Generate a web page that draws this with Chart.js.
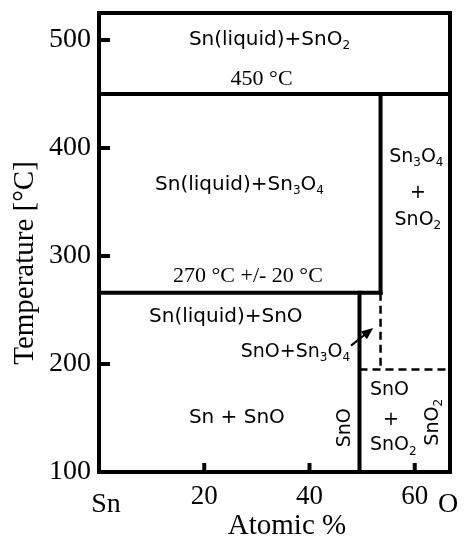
<!DOCTYPE html>
<html>
<head>
<meta charset="utf-8">
<script src="https://cdn.jsdelivr.net/npm/chart.js@4.4.1/dist/chart.umd.min.js"></script>
<style>
  html, body { margin: 0; padding: 0; background: #fff; }
  #wrap { width: 464px; height: 540px; position: relative; }
</style>
</head>
<body>
<div id="wrap"><canvas id="phaseChart"></canvas></div>
<script>
// Sn-O phase diagram
const xTicks = [20, 40, 60];
const yTicks = [100, 200, 300, 400, 500];
const xRange = [0, 66.7];
const yRange = [100, 525];

// compositions (atomic % O) and temperatures (°C) of the boundaries
const compSnO = 49.5;
const compSn3O4 = 53.5;
const compSnO2 = 66.7;
const tLiquid = 450;
const tSn3O4 = 266;
const tSnO = 195;

// solid boundaries
const solidX = [
    [0, compSnO2],
    [compSn3O4, compSn3O4],
    [0, compSn3O4],
    [compSnO, compSnO]
];
const solidY = [
    [tLiquid, tLiquid],
    [tLiquid, tSn3O4],
    [tSn3O4, tSn3O4],
    [tSn3O4, 100]
];
// dashed boundaries
const dashedX = [
    [compSn3O4, compSn3O4],
    [compSnO, compSnO2]
];
const dashedY = [
    [tSn3O4, tSnO],
    [tSnO, tSnO]
];

const SANS = '"DejaVu Sans", sans-serif';
const SERIF = '"Liberation Serif", "Times New Roman", serif';

// region labels ('_' marks a subscript digit)
const annotations = [
    { text: 'Sn(liquid)+SnO_2', x: 32.4, y: 500.6, font: SANS, size: 20 },
    { text: '450 °C', x: 30.9, y: 463.5, font: SERIF, size: 22 },
    { text: 'Sn(liquid)+Sn_3O_4', x: 26.7, y: 366, font: SANS, size: 20 },
    { text: 'Sn_3O_4', x: 60.3, y: 392, font: SANS, size: 19 },
    { text: '+', x: 60.6, y: 358.5, font: SANS, size: 19 },
    { text: 'SnO_2', x: 60.6, y: 333.5, font: SANS, size: 19 },
    { text: '270 °C +/- 20 °C', x: 28.3, y: 281.6, font: SERIF, size: 22 },
    { text: 'Sn(liquid)+SnO', x: 24.1, y: 243.6, font: SANS, size: 20 },
    { text: 'SnO+Sn_3O_4', x: 47.7, y: 211, font: SANS, size: 19, align: 'right' },
    { text: 'Sn + SnO', x: 26.2, y: 149.9, font: SANS, size: 20 },
    { text: 'SnO', x: 46.7, y: 141, font: SANS, size: 19, rotate: true },
    { text: 'SnO', x: 51.5, y: 175.8, font: SANS, size: 19, align: 'left' },
    { text: '+', x: 55.5, y: 148, font: SANS, size: 19 },
    { text: 'SnO_2', x: 51.5, y: 124.5, font: SANS, size: 19, align: 'left' },
    { text: 'SnO_2', x: 63.5, y: 146, font: SANS, size: 19, rotate: true }
];

function chemRuns(str) {
    const runs = [];
    for (let i = 0; i < str.length; i++) {
        if (str[i] === '_') {
            runs.push({ t: str[i + 1], sub: true });
            i++;
        } else if (runs.length && !runs[runs.length - 1].sub) {
            runs[runs.length - 1].t += str[i];
        } else {
            runs.push({ t: str[i], sub: false });
        }
    }
    return runs;
}

function drawChem(ctx, str, x, y, size, family, align) {
    const runs = chemRuns(str);
    const subSize = Math.round(size * 0.62);
    let w = 0;
    runs.forEach(r => {
        ctx.font = (r.sub ? subSize : size) + 'px ' + family;
        r.w = ctx.measureText(r.t).width;
        w += r.w;
    });
    let cx = align === 'left' ? x : align === 'right' ? x - w : x - w / 2;
    ctx.textAlign = 'left';
    ctx.textBaseline = 'middle';
    runs.forEach(r => {
        ctx.font = (r.sub ? subSize : size) + 'px ' + family;
        ctx.fillText(r.t, cx, r.sub ? y + size * 0.32 : y);
        cx += r.w;
    });
}

const datasets = [];
solidX.forEach((xs, i) => {
    datasets.push({
        data: xs.map((x, j) => ({ x: x, y: solidY[i][j] })),
        showLine: true, borderColor: '#000', borderWidth: 4,
        pointRadius: 0, borderCapStyle: 'square'
    });
});
dashedX.forEach((xs, i) => {
    datasets.push({
        data: xs.map((x, j) => ({ x: x, y: dashedY[i][j] })),
        showLine: true, borderColor: '#000', borderWidth: 2.5,
        borderDash: [8, 5], pointRadius: 0
    });
});

const decorPlugin = {
    id: 'decor',
    afterDatasetsDraw(chart) {
        const ctx = chart.ctx;
        const a = chart.chartArea;
        const xs = chart.scales.x, ys = chart.scales.y;
        ctx.save();
        ctx.fillStyle = '#000';
        ctx.strokeStyle = '#000';

        // frame
        ctx.lineWidth = 4;
        ctx.strokeRect(a.left, a.top, a.right - a.left, a.bottom - a.top);

        // inward tick marks
        ctx.lineWidth = 4;
        yTicks.forEach(v => {
            const py = ys.getPixelForValue(v);
            ctx.beginPath(); ctx.moveTo(a.left, py); ctx.lineTo(a.left + 11, py); ctx.stroke();
        });
        xTicks.forEach(v => {
            const px = xs.getPixelForValue(v);
            ctx.beginPath(); ctx.moveTo(px, a.bottom); ctx.lineTo(px, a.bottom - 9); ctx.stroke();
        });

        // region labels
        annotations.forEach(l => {
            const px = xs.getPixelForValue(l.x), py = ys.getPixelForValue(l.y);
            if (l.rotate) {
                ctx.save();
                ctx.translate(px, py);
                ctx.rotate(-Math.PI / 2);
                drawChem(ctx, l.text, 0, 0, l.size, l.font, 'center');
                ctx.restore();
            } else {
                drawChem(ctx, l.text, px, py, l.size, l.font, l.align || 'center');
            }
        });

        // arrow pointing into the SnO + Sn3O4 field
        const x0 = xs.getPixelForValue(47.9), y0 = ys.getPixelForValue(217);
        const x1 = xs.getPixelForValue(52.1), y1 = ys.getPixelForValue(233.4);
        const ang = Math.atan2(y1 - y0, x1 - x0);
        ctx.lineWidth = 2;
        ctx.beginPath(); ctx.moveTo(x0, y0); ctx.lineTo(x1 - 6 * Math.cos(ang), y1 - 6 * Math.sin(ang)); ctx.stroke();
        ctx.beginPath();
        ctx.moveTo(x1, y1);
        ctx.lineTo(x1 - 12 * Math.cos(ang) + 5 * Math.sin(ang), y1 - 12 * Math.sin(ang) - 5 * Math.cos(ang));
        ctx.lineTo(x1 - 12 * Math.cos(ang) - 5 * Math.sin(ang), y1 - 12 * Math.sin(ang) + 5 * Math.cos(ang));
        ctx.closePath();
        ctx.fill();

        // axis titles and end-member labels
        ctx.font = '28px ' + SERIF;
        ctx.textAlign = 'center';
        ctx.textBaseline = 'middle';
        ctx.fillText('Sn', a.left + 7, 505);
        ctx.fillText('O', 448, 505);
        ctx.font = '29px ' + SERIF;
        ctx.fillText('Atomic %', 287, 526);
        ctx.save();
        ctx.translate(25, 263);
        ctx.rotate(-Math.PI / 2);
        ctx.fillText('Temperature [°C]', 0, 0);
        ctx.restore();

        ctx.restore();
    }
};

function noPad(s) {
    s.paddingTop = 0; s.paddingBottom = 0;
    s.paddingLeft = 0; s.paddingRight = 0;
}

new Chart(document.getElementById('phaseChart'), {
    type: 'scatter',
    data: { datasets: datasets },
    options: {
        responsive: true,
        maintainAspectRatio: false,
        animation: false,
        layout: { padding: { top: 13, right: 14, left: 0, bottom: 0 } },
        plugins: { legend: { display: false }, tooltip: { enabled: false } },
        scales: {
            x: {
                type: 'linear',
                min: xRange[0], max: xRange[1],
                grid: { display: false, drawTicks: false },
                border: { display: false },
                afterBuildTicks: s => { s.ticks = xTicks.map(v => ({ value: v })); },
                afterFit: s => { s.height = 68; noPad(s); },
                ticks: { color: '#000', padding: 9, font: { family: SERIF, size: 27 } }
            },
            y: {
                min: yRange[0], max: yRange[1],
                grid: { display: false, drawTicks: false },
                border: { display: false },
                afterBuildTicks: s => { s.ticks = yTicks.map(v => ({ value: v })); },
                afterFit: s => { s.width = 99; noPad(s); },
                ticks: { color: '#000', padding: 8, font: { family: SERIF, size: 28 } }
            }
        }
    },
    plugins: [decorPlugin]
});
</script>
</body>
</html>
